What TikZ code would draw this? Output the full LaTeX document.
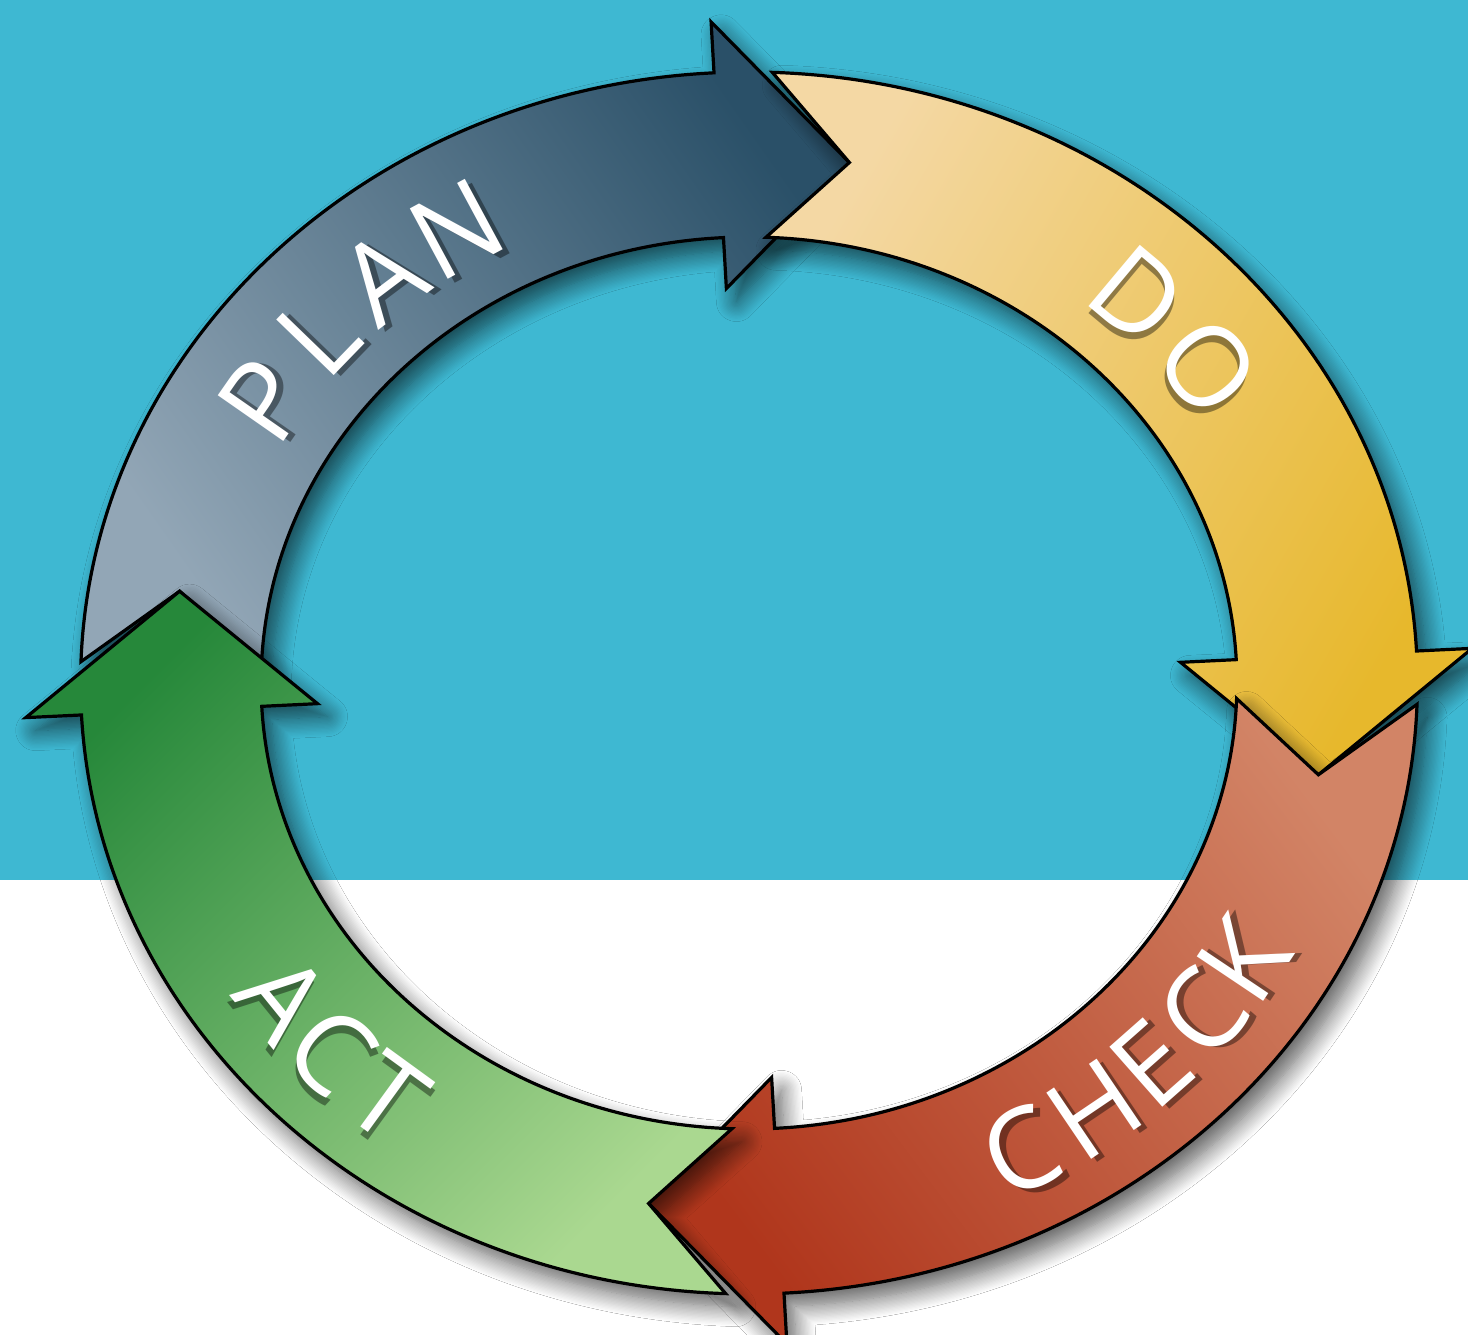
\documentclass[tikz,border=0pt]{standalone}
\usepackage{fontspec}
\setsansfont{Open Sans}
\usetikzlibrary{shadows.blur}

\definecolor{bgcyan}{RGB}{62,184,210}
\definecolor{plandark}{RGB}{42,80,104}
\definecolor{planlight}{RGB}{146,166,182}
\definecolor{dolight}{RGB}{244,216,164}
\definecolor{dodark}{RGB}{231,184,44}
\definecolor{checklight}{RGB}{210,132,102}
\definecolor{checkdark}{RGB}{176,54,28}
\definecolor{actlight}{RGB}{170,216,144}
\definecolor{actdark}{RGB}{38,136,58}

% One curved arrow of the cycle (angles on the unit ring, clockwise):
% #1 tail start, #2 head base, #3 tip of the previous arrow (tail notch)
\newcommand\pdcaArrow[3]{%
  (#1:611) arc[start angle=#1,end angle=#2,radius=611]
  -- (#2:662) -- ({#2-13}:528.5) -- (#2:395) -- (#2:446)
  arc[start angle=#2,end angle=#1,radius=446]
  -- (#3:528.5) -- cycle}

\tikzset{
  ringarrow/.style={draw=black, line width=3.2pt, line join=miter,
    blur shadow={shadow xshift=10pt, shadow yshift=-13pt,
      shadow blur radius=20pt, shadow blur steps=16, shadow opacity=65}},
  letterstyle/.style={inner sep=0pt, text=white,
    font=\sffamily\fontsize{112}{112}\selectfont},
  lettershade/.style={inner sep=0pt, text=black, opacity=0.4,
    font=\sffamily\fontsize{112}{112}\selectfont},
}

\begin{document}
\begin{tikzpicture}[x=1pt,y=1pt]
  \useasboundingbox (0,0) rectangle (1468,1335);
  % background: cyan band over white
  \fill[white] (0,0) rectangle (1468,1335);
  \fill[bgcyan] (0,455) rectangle (1468,1335);

  \begin{scope}[shift={(749,652)}, xscale=1.094]
    % PLAN
    \draw[ringarrow, top color=plandark, bottom color=planlight, shading angle=-55]
      \pdcaArrow{178}{93}{170};
    % DO
    \draw[ringarrow, top color=dodark, bottom color=dolight, shading angle=-120]
      \pdcaArrow{88}{3}{80};
    % CHECK
    \draw[ringarrow, top color=checkdark, bottom color=checklight, shading angle=127]
      \pdcaArrow{-2}{-87}{-10};
    % ACT
    \draw[ringarrow, top color=actdark, bottom color=actlight, shading angle=45]
      \pdcaArrow{-92}{-177}{-100};

    % labels: tops outward on the upper half
    \foreach \ch/\a [count=\i] in {P/147.5,L/138.5,A/129.5,N/120.5}{
      \node[lettershade, rotate={atan2(-cos(\a),1.094*sin(\a))}, xshift=4pt, yshift=-6pt] at (\a:526) {\ch};
      \node[letterstyle, rotate={atan2(-cos(\a),1.094*sin(\a))}] (plan-\i) at (\a:526) {\ch};
    }
    \foreach \ch/\a [count=\i] in {D/47.5,O/37}{
      \node[lettershade, rotate={atan2(-cos(\a),1.094*sin(\a))}, xshift=4pt, yshift=-6pt] at (\a:526) {\ch};
      \node[letterstyle, rotate={atan2(-cos(\a),1.094*sin(\a))}] (do-\i) at (\a:526) {\ch};
    }
    % labels: tops inward on the lower half
    \foreach \ch/\a [count=\i] in {C/-62,H/-53.5,E/-46,C/-38.5,K/-31.5}{
      \node[lettershade, rotate={atan2(cos(\a),-1.094*sin(\a))}, xshift=4pt, yshift=-6pt] at (\a:530) {\ch};
      \node[letterstyle, rotate={atan2(cos(\a),-1.094*sin(\a))}] (check-\i) at (\a:530) {\ch};
    }
    \foreach \ch/\a [count=\i] in {A/-143.5,C/-136,T/-128.5}{
      \node[lettershade, rotate={atan2(cos(\a),-1.094*sin(\a))}, xshift=4pt, yshift=-6pt] at (\a:530) {\ch};
      \node[letterstyle, rotate={atan2(cos(\a),-1.094*sin(\a))}] (act-\i) at (\a:530) {\ch};
    }
  \end{scope}
\end{tikzpicture}
\end{document}
